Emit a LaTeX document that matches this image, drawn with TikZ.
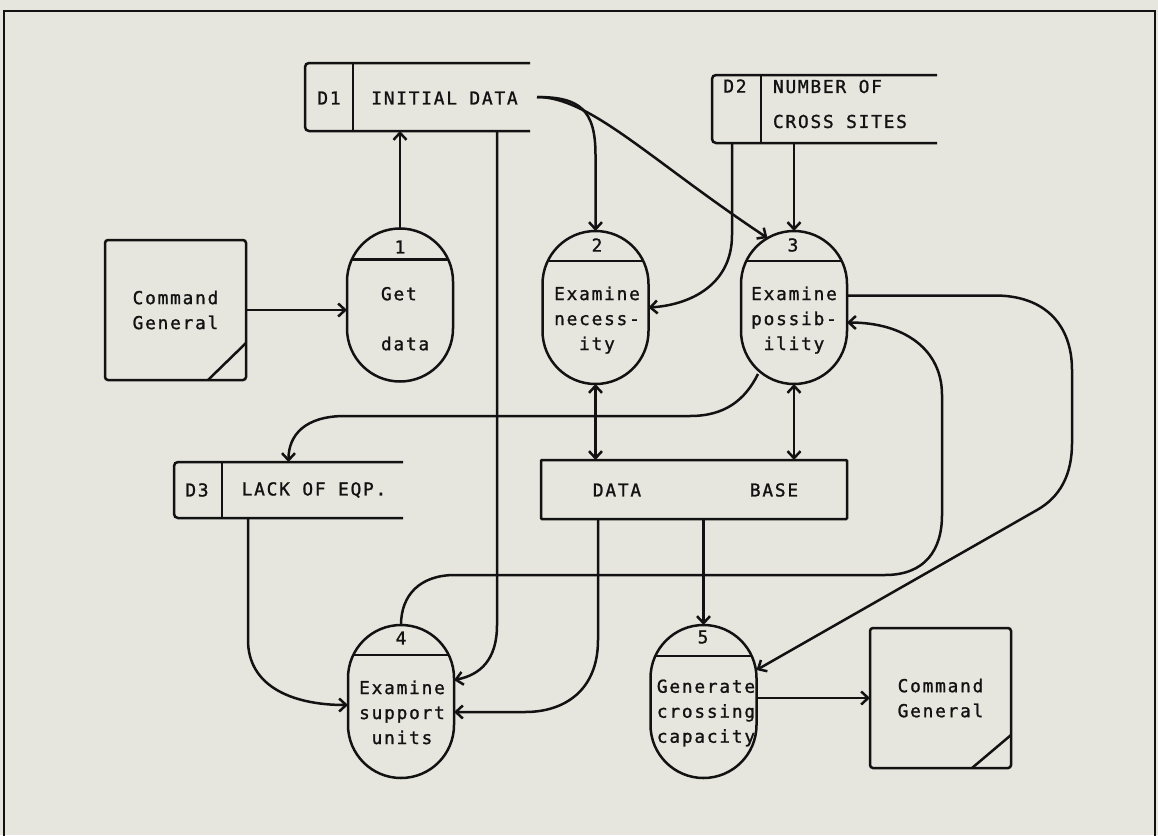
\documentclass[tikz,border=0pt]{standalone}
\usepackage{fontspec}
\newfontfamily\dfont[LetterSpace=10,FakeBold=1.2]{DejaVu Sans Mono}
\usetikzlibrary{arrows.meta,calc}
\definecolor{bg}{RGB}{230,230,223}
\definecolor{ink}{RGB}{18,18,18}
\begin{document}
\begin{tikzpicture}[x=1pt,y=-1pt,
  every node/.style={font=\dfont\fontsize{17.8}{25}\selectfont, text=ink, inner sep=0pt, outer sep=0pt},
  proc/.style={draw=ink, line width=2.5pt, rectangle, rounded corners=53pt, minimum width=106pt, minimum height=153pt},
  extent/.style={draw=ink, line width=2.5pt, rectangle, rounded corners=3pt, minimum width=141pt, minimum height=140pt, align=center},
  storebox/.style={rectangle},
  storeline/.style={draw=ink, line width=2.5pt, rounded corners=4pt},
  dbbox/.style={draw=ink, line width=2.5pt, rectangle, rounded corners=1pt, minimum width=306pt, minimum height=59pt},
  divline/.style={draw=ink, line width=2.5pt},
  conn/.style={draw=ink, line width=2.5pt, -{Straight Barb[length=7pt,width=13pt]}},
  conntwo/.style={draw=ink, line width=2.5pt, {Straight Barb[length=7pt,width=13pt]}-{Straight Barb[length=7pt,width=13pt]}}
]
\useasboundingbox (0,0) rectangle (1158,835);
\fill[bg] (0,0) rectangle (1158,835);
\clip (0,0) rectangle (1158,835);
% frame
\draw[ink, line width=2.5pt] (4,845) -- (4,11) -- (1155,11) -- (1155,845);

% ---------- data stores ----------
\node[storebox, minimum width=225pt, minimum height=68pt] (d1) at (417.5,97) {};
\draw[storeline] (d1.north east) -- (d1.north west) -- (d1.south west) -- (d1.south east);
\draw[divline] ($(d1.north west)+(48,0)$) -- ($(d1.south west)+(48,0)$);
\node (d1id) at (329,98) {D1};
\node (d1txt) at (444.5,98) {INITIAL DATA};

\node[storebox, minimum width=225pt, minimum height=68pt] (d2) at (824.5,109) {};
\draw[storeline] (d2.north east) -- (d2.north west) -- (d2.south west) -- (d2.south east);
\draw[divline] ($(d2.north west)+(49,0)$) -- ($(d2.south west)+(49,0)$);
\node (d2id) at (735,86) {D2};
\node[align=left, anchor=west, font=\dfont\fontsize{17.8}{35}\selectfont] (d2txt) at (773,104) {NUMBER OF\\CROSS SITES};

\node[storebox, minimum width=229pt, minimum height=56pt] (d3) at (288.5,490) {};
\draw[storeline] (d3.north east) -- (d3.north west) -- (d3.south west) -- (d3.south east);
\draw[divline] ($(d3.north west)+(48,0)$) -- ($(d3.south west)+(48,0)$);
\node (d3id) at (197,490) {D3};
\node (d3txt) at (314,490) {LACK OF EQP.};

\node[dbbox] (db) at (694,489.5) {};
\node (dbdata) at (617,490) {DATA};
\node (dbbase) at (774,490) {BASE};

% ---------- external entities ----------
\node[extent] (cg1) at (175.5,310) {Command\\General};
\draw[divline] ($(cg1.south east)+(0,-37)$) -- ($(cg1.south east)+(-38,0)$);
\node[extent] (cg2) at (940.5,698) {Command\\General};
\draw[divline] ($(cg2.south east)+(0,-33)$) -- ($(cg2.south east)+(-39,0)$);

% ---------- processes ----------
\node[proc] (p1) at (400,305) {};
\draw[divline] ($(p1.north)+(-47.7,31)$) -- ($(p1.north)+(47.7,31)$);
\node (p1n) at (400,247) {1};
\node[align=left, anchor=north west] (p1t) at (381,287) {Get\\\mbox{}\\data};

\node[proc] (p2) at (595.5,307.5) {};
\draw[divline] ($(p2.north)+(-47.7,30)$) -- ($(p2.north)+(47.7,30)$);
\node (p2n) at (597,245) {2};
\node[align=center, anchor=north] (p2t) at (597,286.5) {Examine\\necess-\\ity};

\node[proc] (p3) at (794,307.5) {};
\draw[divline] ($(p3.north)+(-47.7,30)$) -- ($(p3.north)+(47.7,30)$);
\node (p3n) at (793,245) {3};
\node[align=center, anchor=north] (p3t) at (794,286.5) {Examine\\possib-\\ility};

\node[proc] (p4) at (401,701.5) {};
\draw[divline] ($(p4.north)+(-47.7,30)$) -- ($(p4.north)+(47.7,30)$);
\node (p4n) at (401,638) {4};
\node[align=center, anchor=north] (p4t) at (402,680.5) {Examine\\support\\units};

\node[proc] (p5) at (703.5,701.5) {};
\draw[divline] ($(p5.north)+(-47.7,31)$) -- ($(p5.north)+(47.7,31)$);
\node (p5n) at (703,637) {5};
\node[align=center, anchor=north] (p5t) at (706,679.5) {Generate\\crossing\\capacity};

% ---------- named end points ----------
\coordinate (d1o) at ($(d1.east)+(7,0)$);
\coordinate (p3a) at ($(p3.north)+(-26.5,7)$);
\coordinate (d2a) at ($(d2.south west)+(20,0)$);
\coordinate (p3o) at ($(p3.east)+(0,-12)$);
\coordinate (p5r) at ($(p5.east)+(0,-31.5)$);
\coordinate (p3i) at ($(p3.east)+(0,15)$);
\coordinate (p3b) at ($(p3.south)+(-36,-10)$);
\coordinate (dbb) at ($(db.south west)+(57,0)$);
\coordinate (p4r2) at ($(p4.east)+(0,10.5)$);
\coordinate (d1b) at ($(d1.south east)+(-33,0)$);
\coordinate (p4r1) at ($(p4.east)+(0,-21.5)$);
\coordinate (d3b) at ($(d3.south west)+(74,0)$);
\coordinate (p4l) at ($(p4.west)+(0,3.5)$);

% ---------- connectors ----------
\draw[conn] (cg1.east) -- (cg1.east -| p1.west);
\draw[conn] (p1.north) -- (p1.north |- d1.south);
\draw[conn] (d1o) .. controls (580,97) and (595.5,110) .. (595.5,155) -- (p2.north);
\draw[conn] (d1o) .. controls (590,97) and (650,160) .. (p3a);
\draw[conn] (d2.south -| p3.north) -- (p3.north);
\draw[conn] (d2a) -- (732,235) .. controls (732,285) and (690,305) .. (p2.east);
\draw[conn] (p3o) -- (995,295.5) .. controls (1045,295.5) and (1072,325) .. (1072,370) -- (1072,443) .. controls (1072,475) and (1060,497) .. (1037,510) -- (p5r);
\draw[conn] (p4.north) .. controls (401,595) and (420,575) .. (455,575) -- (885,575) .. controls (925,575) and (942,550) .. (942,515) -- (942,395) .. controls (942,350) and (905,322.5) .. (p3i);
\draw[conn] (p3b) .. controls (745,400) and (725,416) .. (690,416) -- (345,416) .. controls (305,416) and (288.5,435) .. (d3.north);
\draw[conntwo] (p2.south) -- (p2.south |- db.north);
\draw[conntwo] (p3.south) -- (p3.south |- db.north);
\draw[conn] (db.south -| p5.north) -- (p5.north);
\draw[conn] (dbb) -- (598,640) .. controls (598,690) and (565,712) .. (525,712) -- (p4r2);
\draw[conn] (d1b) -- (497,625) .. controls (497,660) and (480,675) .. (p4r1);
\draw[conn] (d3b) -- (248,640) .. controls (248,685) and (290,705) .. (p4l);
\draw[conn] (p5.east |- cg2.west) -- (cg2.west);
\end{tikzpicture}
\end{document}
